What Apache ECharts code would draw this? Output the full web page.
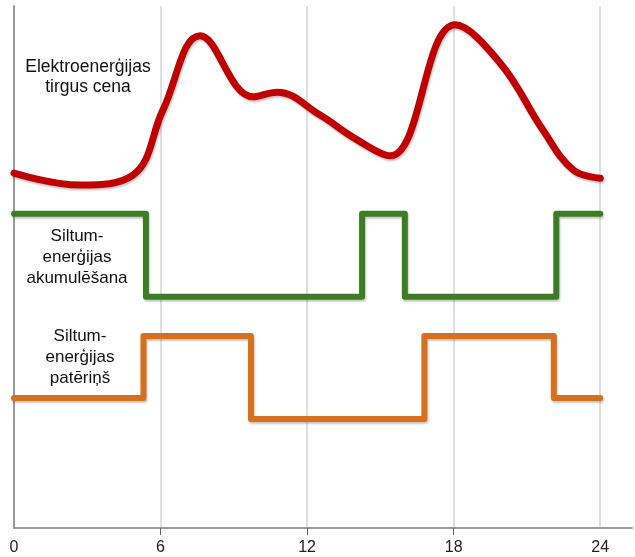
<!DOCTYPE html>
<html>
<head>
<meta charset="utf-8">
<script src="https://cdn.jsdelivr.net/npm/echarts@6/dist/echarts.min.js"></script>
<style>html,body{margin:0;padding:0;background:#fff;}#c{width:635px;height:557px;}</style>
</head>
<body>
<div id="c"></div>
<script>
// Hours of day (x) and relative level (y, 0-100)
const priceHours = [0,2.7,4.87,6.1,7.62,9.79,10.77,12.53,14.0,15.4,18.06,19.9,21.66,22.89,24];
const priceLevel = [68.0,65.7,67.6,80.1,94.3,82.6,83.5,79.1,74.5,71.3,96.4,89.1,76.2,68.6,67.0];

const storageHours = [0,5.4,5.4,14.25,14.25,16.0,16.0,22.2,22.2,24];
const storageLevel = [60.2,60.2,44.3,44.3,60.2,60.2,44.3,44.3,60.2,60.2];

const useHours = [0,5.3,5.3,9.7,9.7,16.8,16.8,22.1,22.1,24];
const useLevel = [24.9,24.9,36.8,36.8,20.9,20.9,36.8,36.8,24.9,24.9];

const xLabels = [0,6,12,18,24];
const xTickMarks = [6,12,18];
const xGrid = [6,12,18,24];

const labelPrice = "Elektroenerģijas\ntirgus cena";
const labelStorage = "Siltum-\nenerģijas\nakumulēšana";
const labelUse = "Siltum-\nenerģijas\npatēriņš";

function pairs(xs, ys){ return xs.map((x,i)=>[x, ys[i]]); }

const shadow = {shadowColor:'rgba(0,0,0,0.22)', shadowBlur:2, shadowOffsetX:1, shadowOffsetY:2};
const font = '"Liberation Sans", Arial, sans-serif';

const chart = echarts.init(document.getElementById('c'));
chart.setOption({
  animation:false,
  grid:{left:14, right:3, top:6, bottom:29},
  xAxis:[{
    type:'value', min:0, max:25.3,
    axisLine:{show:true, lineStyle:{color:'#999', width:2}},
    axisTick:{show:true, length:7, customValues:xTickMarks, lineStyle:{color:'#666', width:1}},
    axisLabel:{color:'#222', fontSize:16, fontFamily:font, margin:12, customValues:xLabels},
    splitLine:{show:false}
  },{
    type:'value', min:0, max:25.3, position:'bottom',
    axisLine:{show:false}, axisLabel:{show:false},
    axisTick:{show:false, customValues:xGrid},
    splitLine:{show:true, lineStyle:{color:'#d4d4d4', width:1.5}}
  }],
  yAxis:{
    type:'value', min:0, max:100,
    axisLine:{show:true, lineStyle:{color:'#999', width:2}},
    axisTick:{show:false}, axisLabel:{show:false}, splitLine:{show:false}
  },
  series:[
    {type:'line', data:pairs(priceHours, priceLevel), smooth:0.4, showSymbol:false, z:3,
     lineStyle:Object.assign({color:'#C00000', width:7, cap:'round', join:'round'}, shadow)},
    {type:'line', data:pairs(storageHours, storageLevel), showSymbol:false, z:3,
     lineStyle:Object.assign({color:'#3B7D23', width:6, cap:'round', join:'round'}, shadow)},
    {type:'line', data:pairs(useHours, useLevel), showSymbol:false, z:3,
     lineStyle:Object.assign({color:'#D6701E', width:6, cap:'round', join:'round'}, shadow)}
  ],
  graphic:[
    {type:'text', x:88, y:77, style:{text:labelPrice, fill:'#111', font:'17.5px '+font, align:'center', verticalAlign:'middle', lineHeight:20}},
    {type:'text', x:77, y:257, style:{text:labelStorage, fill:'#111', font:'17px '+font, align:'center', verticalAlign:'middle', lineHeight:21}},
    {type:'text', x:80, y:357, style:{text:labelUse, fill:'#111', font:'17px '+font, align:'center', verticalAlign:'middle', lineHeight:21}}
  ]
});
</script>
</body>
</html>
